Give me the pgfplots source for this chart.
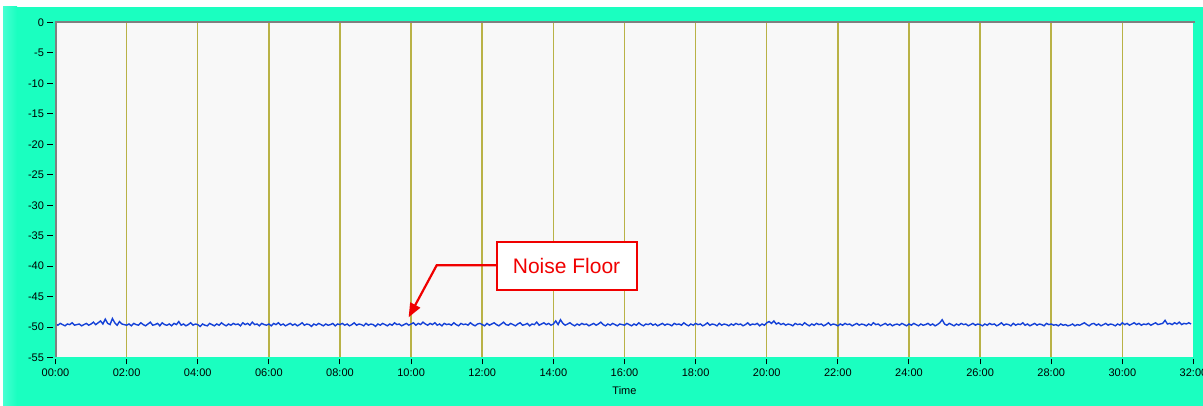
\documentclass[border=0pt]{standalone}
\usepackage{fontspec}
\setmainfont{Liberation Sans}
\usepackage{pgfplots}
\usepackage{pgfplotstable}
\pgfplotsset{compat=1.18}
\usetikzlibrary{arrows.meta}
\definecolor{framec}{RGB}{26,255,192}
\definecolor{frameL}{RGB}{70,255,210}
\definecolor{plotbg}{RGB}{248,248,248}
\definecolor{gridc}{RGB}{185,178,70}
\definecolor{noisec}{RGB}{20,65,215}
\definecolor{annot}{RGB}{240,0,0}
\pgfplotstableread[row sep=\\]{
y\\
-49.5\\-49.7\\-49.4\\-49.6\\-49.8\\-49.5\\-49.6\\-49.3\\-49.7\\-49.6\\-49.5\\-49.8\\-49.6\\-49.4\\-49.7\\-49.5\\-49.2\\-49.6\\-49.3\\-49.0\\-49.5\\-48.7\\-49.4\\-49.6\\-48.6\\-49.3\\-49.7\\-49.1\\-49.5\\-49.6\\
-49.7\\-49.5\\-49.8\\-49.4\\-49.6\\-49.7\\-49.3\\-49.6\\-49.8\\-49.5\\-49.2\\-49.7\\-49.6\\-49.4\\-49.8\\-49.3\\-49.6\\-49.7\\-49.5\\-49.8\\-49.4\\-49.6\\-49.1\\-49.7\\-49.5\\-49.8\\-49.6\\-49.3\\-49.7\\-49.5\\
-49.6\\-49.9\\-49.5\\-49.7\\-49.8\\-49.4\\-49.6\\-49.8\\-49.5\\-49.7\\-49.3\\-49.6\\-49.8\\-49.5\\-49.7\\-49.4\\-49.6\\-49.5\\-49.8\\-49.3\\-49.6\\-49.4\\-49.7\\-49.2\\-49.6\\-49.5\\-49.8\\-49.4\\-49.6\\-49.7\\
-49.5\\-49.8\\-49.4\\-49.6\\-49.3\\-49.7\\-49.5\\-49.8\\-49.6\\-49.4\\-49.7\\-49.5\\-49.8\\-49.6\\-49.3\\-49.7\\-49.5\\-49.6\\-49.9\\-49.5\\-49.7\\-49.4\\-49.6\\-49.8\\-49.5\\-49.7\\-49.6\\-49.4\\-49.8\\-49.5\\
-49.6\\-49.4\\-49.7\\-49.5\\-49.8\\-49.6\\-49.3\\-49.7\\-49.5\\-49.6\\-49.8\\-49.4\\-49.7\\-49.5\\-49.6\\-49.9\\-49.5\\-49.7\\-49.4\\-49.6\\-49.8\\-49.5\\-49.7\\-49.3\\-49.6\\-49.5\\-49.8\\-49.6\\-49.4\\-49.7\\
-49.5\\-49.3\\-49.7\\-49.4\\-49.6\\-49.2\\-49.5\\-49.7\\-49.4\\-49.6\\-49.3\\-49.7\\-49.5\\-49.8\\-49.4\\-49.6\\-49.5\\-49.7\\-49.3\\-49.6\\-49.8\\-49.4\\-49.6\\-49.5\\-49.7\\-49.3\\-49.6\\-49.8\\-49.5\\-49.4\\
-49.6\\-49.8\\-49.4\\-49.7\\-49.5\\-49.3\\-49.6\\-49.8\\-49.5\\-49.2\\-49.6\\-49.7\\-49.4\\-49.6\\-49.8\\-49.5\\-49.3\\-49.7\\-49.6\\-49.4\\-49.8\\-49.5\\-49.6\\-49.2\\-49.7\\-49.5\\-49.3\\-49.6\\-49.4\\-49.7\\
-49.5\\-49.0\\-49.6\\-48.8\\-49.4\\-49.7\\-49.5\\-49.3\\-49.6\\-49.8\\-49.5\\-49.7\\-49.4\\-49.6\\-49.5\\-49.8\\-49.6\\-49.4\\-49.7\\-49.5\\-49.2\\-49.6\\-49.8\\-49.5\\-49.7\\-49.4\\-49.6\\-49.8\\-49.5\\-49.6\\
-49.7\\-49.4\\-49.6\\-49.8\\-49.5\\-49.7\\-49.3\\-49.6\\-49.8\\-49.5\\-49.6\\-49.4\\-49.7\\-49.5\\-49.8\\-49.6\\-49.4\\-49.7\\-49.5\\-49.6\\-49.8\\-49.4\\-49.6\\-49.5\\-49.7\\-49.3\\-49.6\\-49.8\\-49.5\\-49.7\\
-49.4\\-49.6\\-49.5\\-49.8\\-49.6\\-49.3\\-49.7\\-49.5\\-49.6\\-49.8\\-49.4\\-49.7\\-49.5\\-49.6\\-49.8\\-49.5\\-49.7\\-49.4\\-49.6\\-49.5\\-49.8\\-49.6\\-49.3\\-49.7\\-49.5\\-49.6\\-49.4\\-49.8\\-49.5\\-49.7\\
-49.3\\-49.1\\-49.4\\-49.0\\-49.5\\-49.3\\-49.6\\-49.4\\-49.7\\-49.5\\-49.6\\-49.8\\-49.4\\-49.6\\-49.5\\-49.7\\-49.3\\-49.6\\-49.8\\-49.5\\-49.7\\-49.4\\-49.6\\-49.5\\-49.8\\-49.6\\-49.3\\-49.7\\-49.5\\-49.6\\
-49.8\\-49.5\\-49.7\\-49.4\\-49.6\\-49.5\\-49.8\\-49.6\\-49.4\\-49.7\\-49.5\\-49.6\\-49.8\\-49.5\\-49.7\\-49.3\\-49.6\\-49.5\\-49.8\\-49.6\\-49.4\\-49.7\\-49.5\\-49.8\\-49.6\\-49.5\\-49.7\\-49.4\\-49.6\\-49.8\\
-49.5\\-49.7\\-49.4\\-49.6\\-49.8\\-49.5\\-49.7\\-49.6\\-49.4\\-49.7\\-49.5\\-49.8\\-49.6\\-49.3\\-48.8\\-49.5\\-49.7\\-49.4\\-49.6\\-49.8\\-49.5\\-49.7\\-49.4\\-49.6\\-49.5\\-49.8\\-49.6\\-49.4\\-49.7\\-49.5\\
-49.6\\-49.8\\-49.5\\-49.7\\-49.4\\-49.6\\-49.5\\-49.8\\-49.6\\-49.3\\-49.7\\-49.5\\-49.6\\-49.8\\-49.4\\-49.7\\-49.5\\-49.6\\-49.3\\-49.7\\-49.5\\-49.8\\-49.6\\-49.4\\-49.7\\-49.5\\-49.6\\-49.8\\-49.4\\-49.6\\
-49.5\\-49.7\\-49.6\\-49.8\\-49.5\\-49.7\\-49.6\\-49.8\\-49.7\\-49.5\\-49.8\\-49.6\\-49.7\\-49.5\\-49.3\\-49.6\\-49.8\\-49.5\\-49.4\\-49.7\\-49.5\\-49.8\\-49.6\\-49.4\\-49.7\\-49.5\\-49.6\\-49.8\\-49.5\\-49.7\\
-49.3\\-49.6\\-49.4\\-49.7\\-49.5\\-49.3\\-49.6\\-49.4\\-49.7\\-49.5\\-49.6\\-49.4\\-49.7\\-49.5\\-49.3\\-49.6\\-49.5\\-49.4\\-48.9\\-49.5\\-49.4\\-49.6\\-49.3\\-49.5\\-49.2\\-49.6\\-49.4\\-49.5\\-49.3\\-49.5\\
}\noisetable
\begin{document}
\begin{tikzpicture}[x=1pt,y=1pt]
\useasboundingbox (0,0) rectangle (1203,406);
\fill[white] (0,0) rectangle (1203,406);
\fill[framec] (3,0) rectangle (1203,399);
\shade[left color=frameL, right color=framec] (3,0) rectangle (17,399);
\begin{axis}[
  at={(55.5pt,48.5pt)}, anchor=south west, scale only axis,
  width=1138pt, height=335pt,
  xmin=0, xmax=32, ymin=-55, ymax=0,
  axis background/.style={fill=plotbg},
  axis line style={draw=none},
  xtick={0,2,...,32},
  xticklabels={00:00,02:00,04:00,06:00,08:00,10:00,12:00,14:00,16:00,18:00,20:00,22:00,24:00,26:00,28:00,30:00,32:00},
  ytick={0,-5,-10,-15,-20,-25,-30,-35,-40,-45,-50,-55},
  yticklabels={0,-5,-10,-15,-20,-25,-30,-35,-40,-45,-50,-55},
  tick align=outside, major tick length=5pt,
  xtick pos=bottom, ytick pos=left,
  x tick style={black, line width=1pt, yshift=-2pt},
  y tick style={black, line width=1pt, xshift=-3pt},
  tick label style={font=\fontsize{11}{13}\selectfont},
  xticklabel style={yshift=-3pt},
  yticklabel style={xshift=-3pt},
  xlabel={Time}, xlabel style={font=\fontsize{11}{13}\selectfont, yshift=-3pt},
  clip=false,
]
\pgfplotsinvokeforeach{2,4,...,30}{\draw[gridc, line width=1.5pt] (axis cs:#1,-55) -- (axis cs:#1,0);}
\addplot[noisec, line width=1.4pt, no marks] table[x expr=\coordindex/15, y index=0] {\noisetable};
\draw[gray, line width=2pt] (axis cs:0,-55) -- (axis cs:0,0) -- (axis cs:32.05,0);
\draw[annot, line width=2.2pt, -{Triangle[length=14pt,width=11pt]}] (axis cs:12.4,-39.85) -- (axis cs:10.72,-39.85) -- (axis cs:9.93,-48.4);
\node[draw=annot, line width=2pt, fill=white, minimum width=140pt, minimum height=48pt, text=annot, font=\fontsize{21}{24}\selectfont, inner sep=0pt] at (axis cs:14.37,-40.0) {Noise Floor};
\end{axis}
\end{tikzpicture}
\end{document}
